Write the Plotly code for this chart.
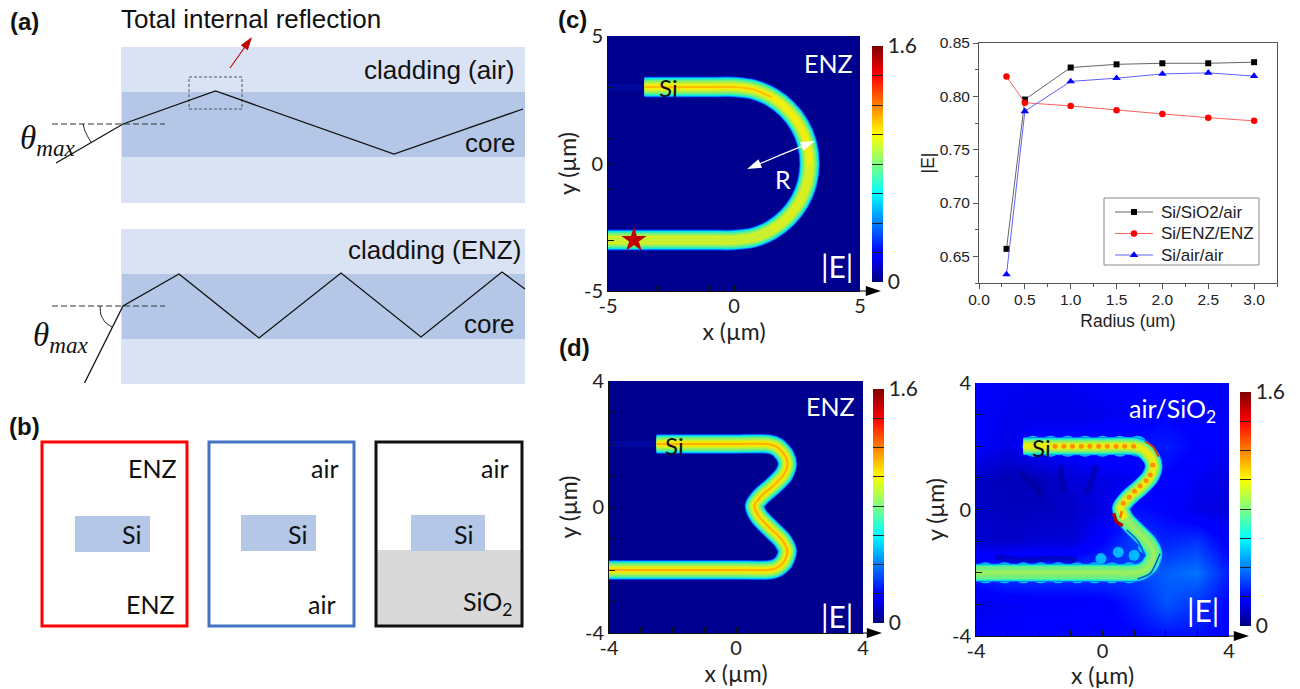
import plotly.graph_objects as go

W, H = 1300, 689

# ---------- data: line chart ----------
radius = [0.3, 0.5, 1.0, 1.5, 2.0, 2.5, 3.0]
e_sio2 = [0.657, 0.797, 0.827, 0.830, 0.831, 0.831, 0.832]
e_enz = [0.8185, 0.794, 0.791, 0.787, 0.7835, 0.780, 0.777]
e_air = [0.633, 0.786, 0.814, 0.817, 0.821, 0.822, 0.819]
series_names = ["Si/SiO2/air", "Si/ENZ/ENZ", "Si/air/air"]

# ---------- data: waveguide centre lines (um) ----------
c_x = [-3.55, -2, -1, 0, 0.78, 1.5, 2.12, 2.6, 2.9, 3.0, 2.9, 2.6, 2.12, 1.5, 0.78, 0, -1, -3, -5]
c_y = [3, 3, 3, 3, 2.9, 2.6, 2.12, 1.5, 0.78, 0, -0.78, -1.5, -2.12, -2.6, -2.9, -3, -3, -3, -3]
c_top_x = c_x[:10]
c_top_y = c_y[:10]
c_core_x = [-3.55, -2, -1, 0, 0.78, 1.5]
c_core_y = [3, 3, 3, 3, 2.9, 2.6]
c_low_x = [1.5, 0.78, 0, -1, -3, -5]
c_low_y = [-2.6, -2.9, -3, -3, -3, -3]
c_leak_x = [-5, -3.5]
c_leak_y = [3, 3]
star_x = [-3.97]
star_y = [-3]
r_out_x = [1.83, 3.21]
r_out_y = [0.33, 0.88]
r_in_x = [1.83, 0.52]
r_in_y = [0.33, -0.22]

d_x = [-2.5, -1.5, 0, 1, 1.3, 1.55, 1.62, 1.5, 1.2, 0.8, 0.58, 0.72, 1.05, 1.45, 1.62, 1.5, 1.25, 1, 0, -2, -4]
d_y = [2, 2, 2, 2, 1.9, 1.62, 1.35, 1.02, 0.7, 0.35, 0.05, -0.3, -0.65, -1.05, -1.4, -1.75, -1.95, -2, -2, -2, -2]
d_leak_x = [-4, -2.5]
d_leak_y = [2, 2]

# air/SiO2 panel details
dots_x = [-1.5, -1.22, -0.95, -0.67, -0.4, -0.12, 0.15, 0.43, 0.7, 0.98, 1.59, 1.51, 1.38, 1.19, 1.01, 0.84, 0.66]
dots_y = [2, 2, 2, 2, 2, 2, 2, 2, 2, 2, 1.41, 1.09, 0.91, 0.745, 0.58, 0.39, 0.2]
lump_x = [-3.7, -3.1, -2.5, -1.95, -1.4, -0.8, -0.25, 0.3, 0.85, -2.2, -1.65, -1.1, -0.55, 0, 0.55, 1.1]
lump_y = [-2, -2, -2, -2, -2, -2, -2, -2, -2, 2, 2, 2, 2, 2, 2, 2]
blob_x = [-0.05, 0.5, 1.0, 1.3]
blob_y = [-1.55, -1.35, -1.45, -1.2]
streak1_x = [1.35, 1.61, 1.77]
streak1_y = [2.15, 1.97, 1.67]
streak2_x = [0.35, 0.45, 0.64]
streak2_y = [-0.12, -0.39, -0.51]
streak3_x = [0.61, 0.56]
streak3_y = [-0.05, -0.26]
dark1_x = [0.77, 1.14, 1.35]
dark1_y = [-0.65, -1.02, -1.5]
dark2_x = [1.82, 1.51, 1.1]
dark2_y = [-1.39, -2.02, -2.2]
shade_paths = [([-2.6, -2.2, -1.9], [1.2, 0.8, 0.4]),
               ([-1.3, -1.3, -1.2], [1.4, 0.9, 0.5]),
               ([-0.2, -0.35, -0.5], [1.4, 0.9, 0.5]),
               ([-3.4, -2.6, -1.6, -0.8], [-1.5, -1.6, -1.55, -1.6])]

# ---------- data: coarse field backgrounds ----------
grid_c = [-5, 5]
flat_z = [[0.02, 0.02], [0.02, 0.02]]
grid_d = [-4, 4]
air_x = [-4, -3, -2, -1, 0, 1, 2, 3, 4]
air_y = [-4, -3, -2, -1, 0, 1, 2, 3, 4]
air_z = [
    [0.17, 0.18, 0.20, 0.20, 0.18, 0.20, 0.22, 0.22, 0.20],
    [0.15, 0.16, 0.17, 0.17, 0.18, 0.24, 0.33, 0.28, 0.20],
    [0.25, 0.30, 0.30, 0.30, 0.30, 0.30, 0.35, 0.38, 0.24],
    [0.12, 0.10, 0.12, 0.12, 0.20, 0.30, 0.25, 0.28, 0.18],
    [0.10, 0.09, 0.09, 0.10, 0.14, 0.22, 0.20, 0.14, 0.13],
    [0.10, 0.08, 0.08, 0.12, 0.14, 0.16, 0.20, 0.16, 0.14],
    [0.18, 0.14, 0.20, 0.20, 0.22, 0.22, 0.24, 0.20, 0.16],
    [0.17, 0.15, 0.14, 0.14, 0.15, 0.17, 0.20, 0.18, 0.17],
    [0.18, 0.16, 0.16, 0.16, 0.17, 0.18, 0.18, 0.17, 0.16],
]
cbar_ticks = [0, 0.2, 0.4, 0.6, 0.8, 1.0, 1.2, 1.4, 1.6]
cbar_labels = ["0", "", "", "", "", "", "", "", "1.6"]

# ---------- data: schematic rays (page pixels) ----------
ray1_x = [56, 123, 215.5, 394, 523]
ray1_y = [163, 124, 91, 154, 109]
ray2_x = [84.5, 123, 179, 259, 341, 421, 502, 525]
ray2_y = [383, 306, 274, 338, 273, 337, 272, 289]
arc1_x = [83, 85, 88, 91]
arc1_y = [124, 131, 137, 142]
arc2_x = [100, 101, 105, 112]
arc2_y = [306, 315, 322, 327]

FONT_C = "Lato"
FONT_A = "Liberation Sans"
JET = [[0, "#00007f"], [0.11, "#0000ff"], [0.125, "#0000ff"], [0.375, "#00ffff"],
       [0.625, "#ffff00"], [0.875, "#ff0000"], [1, "#7f0000"]]
BAND = [(21, "#0020e0"), (20, "#0060ff"), (19, "#00a8ff"), (18, "#00e0f0"),
        (16.5, "#30f0b0"), (14, "#70f080"), (11, "#a8f050"), (8, "#d8f020")]


def dx(a, b):
    return [a / W, b / W]


def dy(top, bottom):
    return [1 - bottom / H, 1 - top / H]


fig = go.Figure()
annotations, shapes = [], []


def label(px, py, text, size, color="#111", font=FONT_A, angle=0, bold=False, anchor="center"):
    annotations.append(dict(x=px, y=py, xref="x", yref="y", text=f"<b>{text}</b>" if bold else text,
                            showarrow=False, xanchor=anchor, yanchor="middle", textangle=angle,
                            font=dict(family=font, size=size, color=color)))


def arrow(x, y, color, width=1, head=10, xa="x", ya="y"):
    fig.add_trace(go.Scatter(x=x, y=y, mode="lines+markers", xaxis=xa, yaxis=ya, showlegend=False,
                             hoverinfo="skip", line=dict(color=color, width=width),
                             marker=dict(color=color, size=[0, head], symbol="arrow", angleref="previous",
                                         opacity=1, line=dict(width=0))))


def rect(x0, y0, x1, y1, fill="rgba(0,0,0,0)", line=None, lw=0):
    shapes.append(dict(type="rect", xref="x", yref="y", x0=x0, y0=y0, x1=x1, y1=y1, layer="below",
                       fillcolor=fill, line=dict(color=line or "rgba(0,0,0,0)", width=lw)))


def line(x, y, color, width, xa="x", ya="y", dash="solid", shape="linear", opacity=1.0):
    fig.add_trace(go.Scatter(x=x, y=y, mode="lines", xaxis=xa, yaxis=ya, showlegend=False,
                             hoverinfo="skip", opacity=opacity,
                             line=dict(color=color, width=width, dash=dash, shape=shape, smoothing=0.7)))


def markers(x, y, color, size, xa, ya, symbol="circle"):
    fig.add_trace(go.Scatter(x=x, y=y, mode="markers", xaxis=xa, yaxis=ya, showlegend=False,
                             hoverinfo="skip", marker=dict(color=color, size=size, symbol=symbol)))


def field(xs, ys, z, xa, ya, cb_left, cb_top, cb_bottom, smooth):
    fig.add_trace(go.Heatmap(
        x=xs, y=ys, z=z, zmin=0, zmax=1.6, colorscale=JET, xaxis=xa, yaxis=ya, hoverinfo="skip",
        zsmooth=smooth,
        colorbar=dict(x=cb_left / W, xanchor="left", y=1 - cb_bottom / H, yanchor="bottom",
                      lenmode="pixels", len=cb_bottom - cb_top, thicknessmode="pixels", thickness=11,
                      xpad=0, ypad=0, outlinewidth=0, tickvals=cbar_ticks, ticktext=cbar_labels,
                      ticks="inside", ticklen=11, tickwidth=1, tickcolor="#222",
                      tickfont=dict(family=FONT_C, size=21, color="#222"))))


def heat_axes(n, left, right, top, bottom, rng, labelled, step):
    common = dict(range=rng, showgrid=False, zeroline=False, showline=True, linecolor="#111", linewidth=1,
                  ticks="inside", ticklen=6, tickcolor="#111", tickmode="array", tickvals=labelled,
                  ticktext=[str(v) for v in labelled],
                  minor=dict(ticks="inside", ticklen=6, tickcolor="#111", dtick=step, tick0=rng[0]),
                  tickfont=dict(family=FONT_C, size=20, color="#222"))
    fig.layout[f"xaxis{n}"] = dict(common, domain=dx(left, right), anchor=f"y{n}", ticklabelstandoff=-3,
                                   title=dict(text="x (µm)", standoff=0,
                                              font=dict(family=FONT_C, size=23, color="#222")))
    fig.layout[f"yaxis{n}"] = dict(common, domain=dy(top, bottom), anchor=f"x{n}",
                                   title=dict(text="y (µm)", standoff=0,
                                              font=dict(family=FONT_C, size=23, color="#222")))


# ---------- page layer ----------
fig.add_trace(go.Scatter(x=[0, W], y=[0, H], mode="markers", marker=dict(opacity=0), showlegend=False,
                         hoverinfo="skip"))

# (a)
for top, core_top, core_bot, bottom in [(47, 92, 157, 203), (229, 274, 339, 384)]:
    rect(121, top, 525, bottom, fill="#dae3f3")
    rect(122, core_top, 525, core_bot, fill="#b4c7e7")
line(ray1_x, ray1_y, "#111", 1.3)
line(ray2_x, ray2_y, "#111", 1.3)
line([52, 165], [124, 124], "#333", 1, dash="6px,3px")
line([52, 165], [306, 306], "#333", 1, dash="6px,3px")
line(arc1_x, arc1_y, "#222", 1, shape="spline")
line(arc2_x, arc2_y, "#222", 1, shape="spline")
rect(189, 77, 242, 109, line="#555", lw=1)
shapes[-1]["line"]["dash"] = "3px,2px"
arrow([230, 252], [68, 37], "#c00000", width=1.1, head=14)
label(24, 21, "(a)", 24, bold=True)
label(251, 19, "Total internal reflection", 26)
label(439, 70, "cladding (air)", 26)
label(490, 143, "core", 26)
label(434, 250, "cladding (ENZ)", 26)
label(489, 324, "core", 26)
label(47, 140, "<i>θ<sub>max</sub></i>", 33, font="Liberation Serif")
label(60, 337, "<i>θ<sub>max</sub></i>", 33, font="Liberation Serif")

# (b)
label(24, 426, "(b)", 24, bold=True)
rect(375, 550, 522, 627, fill="#d9d9d9")
rect(75, 516, 150, 552, fill="#b4c7e7")
rect(241, 515, 316, 551, fill="#b4c7e7")
rect(411, 515, 485, 551, fill="#b4c7e7")
rect(42, 442, 187, 626, line="#ff0000", lw=3)
rect(209, 442, 354, 626, line="#4472c4", lw=3)
rect(376, 442, 522, 626, line="#111111", lw=3)
for px, py, t in [(152, 468, "ENZ"), (131, 534, "Si"), (150, 604, "ENZ"),
                  (325, 468, "air"), (297, 534, "Si"), (322, 604, "air"),
                  (495, 468, "air"), (463, 534, "Si"), (487, 603, "SiO<sub>2</sub>")]:
    label(px, py, t, 25, font=FONT_C)

# axis end arrows
arrow([860, 881], [291, 291], "#000", head=16)
arrow([863, 882], [633, 633], "#000", head=16)
arrow([1229, 1249], [636, 636], "#000", head=16)

# (c) field map
field(grid_c, grid_c, flat_z, "x2", "y2", 872, 46, 282, "fast")
line(c_leak_x, c_leak_y, "#000ca8", 6, "x2", "y2", opacity=0.7)
for w, col in BAND:
    line(c_x, c_y, col, w, "x2", "y2", shape="spline")
line(c_top_x, c_top_y, "#f4ee10", 5, "x2", "y2", shape="spline")
line(c_core_x, c_core_y, "#ffc000", 2.2, "x2", "y2", shape="spline")
line(c_low_x, c_low_y, "#c8f030", 5, "x2", "y2", shape="spline")
markers(star_x, star_y, "#c00000", 19, "x2", "y2", symbol="star")
arrow(r_out_x, r_out_y, "#ffffff", width=1.2, head=15, xa="x2", ya="y2")
arrow(r_in_x, r_in_y, "#ffffff", width=1.2, head=15, xa="x2", ya="y2")
heat_axes(2, 608, 860, 36, 291, [-5, 5], [-5, 0, 5], 2)

# (d) ENZ field map
field(grid_d, grid_d, flat_z, "x3", "y3", 873, 389, 623, "fast")
line(d_leak_x, d_leak_y, "#000ca8", 6, "x3", "y3", opacity=0.7)
for w, col in BAND:
    line(d_x, d_y, col, w * 0.95, "x3", "y3", shape="spline")
line(d_x, d_y, "#f8e800", 5, "x3", "y3", shape="spline")
line(d_x, d_y, "#ffae00", 2, "x3", "y3", shape="spline")
heat_axes(3, 609, 863, 381, 633, [-4, 4], [-4, 0, 4], 1)

# (d) air/SiO2 field map
field(air_x, air_y, air_z, "x4", "y4", 1240, 392, 626, "best")
for sx, sy in shade_paths:
    line(sx, sy, "#000090", 6, "x4", "y4", shape="spline", opacity=0.45)
markers(lump_x, lump_y, "#00c8ff", 21, "x4", "y4")
markers(blob_x, blob_y, "#00b8ff", 11, "x4", "y4")
for w, col in BAND[1:6]:
    line(d_x, d_y, col, w * 0.9, "x4", "y4", shape="spline")
line(d_x[:12], d_y[:12], "#a8f050", 10, "x4", "y4", shape="spline")
line(d_x[:12], d_y[:12], "#e8ee10", 6, "x4", "y4", shape="spline")
line(d_x[11:], d_y[11:], "#98f060", 5, "x4", "y4", shape="spline")
markers(dots_x, dots_y, "#ff9000", 5, "x4", "y4")
line(streak1_x, streak1_y, "#e83000", 2, "x4", "y4", shape="spline")
line(streak2_x, streak2_y, "#b00000", 3.5, "x4", "y4", shape="spline")
line(streak3_x, streak3_y, "#ff7000", 2.5, "x4", "y4")
line(dark1_x, dark1_y, "#0050e0", 1.5, "x4", "y4", shape="spline")
line(dark2_x, dark2_y, "#0050e0", 1.5, "x4", "y4", shape="spline")
heat_axes(4, 976, 1229, 383, 636, [-4, 4], [-4, 0, 4], 1)

# Radius chart
styles = [("#000000", "#666666", "square", 6), ("#ff0000", "#ff6060", "circle", 6.5),
          ("#0000ff", "#6060ff", "triangle-up", 7.5)]
for name, vals, (col, lcol, sym, ms) in zip(series_names, [e_sio2, e_enz, e_air], styles):
    fig.add_trace(go.Scatter(x=radius, y=vals, name=name, mode="lines+markers", xaxis="x5", yaxis="y5",
                             showlegend=False, line=dict(color=lcol, width=1),
                             marker=dict(color=col, size=ms, symbol=sym)))
tf = dict(family=FONT_A, size=15.5, color="#222")
fig.layout["xaxis5"] = dict(domain=dx(979, 1277), anchor="y5", range=[0, 3.25], dtick=0.5, tick0=0,
                            tickformat=".1f", showgrid=False, zeroline=False, showline=True, mirror=True,
                            linecolor="#555", ticks="outside", ticklen=5, tickcolor="#555", tickfont=tf,
                            ticklabelstandoff=-3,
                            minor=dict(ticks="outside", ticklen=3, dtick=0.25, tick0=0, tickcolor="#555"),
                            title=dict(text="Radius (um)", standoff=8, font=dict(family=FONT_A, size=17.5, color="#222")))
fig.layout["yaxis5"] = dict(domain=dy(43, 283), anchor="x5", range=[0.625, 0.85], dtick=0.05, tick0=0.65,
                            tickformat=".2f", showgrid=False, zeroline=False, showline=True, mirror=True,
                            linecolor="#555", ticks="outside", ticklen=5, tickcolor="#555", tickfont=tf,
                            minor=dict(ticks="outside", ticklen=3, dtick=0.025, tick0=0.65, tickcolor="#555"),
                            title=dict(text="|E|", standoff=0, font=dict(family=FONT_A, size=17.5, color="#222")))

# key of the radius chart
rect(1104, 198, 1259, 265, fill="#ffffff", line="#888888", lw=1)
for name, (col, lcol, sym, ms), ky in zip(series_names, styles, [212, 233.5, 255]):
    line([1115, 1153], [ky, ky], lcol, 1)
    markers([1134], [ky], col, ms, "x", "y", symbol=sym)
    label(1159, ky, name, 17, "#222", anchor="left")

# panel (c)/(d) annotations
label(572, 19, "(c)", 24, bold=True)
label(574, 347, "(d)", 24, bold=True)
label(828, 63, "ENZ", 25, "#ffffff", FONT_C)
label(837, 266, "|E|", 30, "#ffffff", FONT_C)
label(668, 87, "Si", 24, "#111", FONT_C)
label(783, 179, "R", 25, "#ffffff", FONT_C)

label(830, 406, "ENZ", 25, "#ffffff", FONT_C)
label(837, 616, "|E|", 30, "#ffffff", FONT_C)
label(674, 445, "Si", 24, "#111", FONT_C)

label(1172, 410, "air/SiO<sub>2</sub>", 25, "#ffffff", FONT_C)
label(1203, 610, "|E|", 30, "#ffffff", FONT_C)
label(1041, 447, "Si", 24, "#111", FONT_C)

fig.update_layout(
    width=W, height=H, margin=dict(l=0, r=0, t=0, b=0, autoexpand=False), paper_bgcolor="white",
    plot_bgcolor="rgba(0,0,0,0)", showlegend=False,
    xaxis=dict(domain=[0, 1], range=[0, W], visible=False, fixedrange=True),
    yaxis=dict(domain=[0, 1], range=[H, 0], visible=False, fixedrange=True),
    annotations=annotations, shapes=shapes,
)
fig.write_html("out.html", post_script="document.body.style.margin='0';",
               config=dict(displayModeBar=False))
